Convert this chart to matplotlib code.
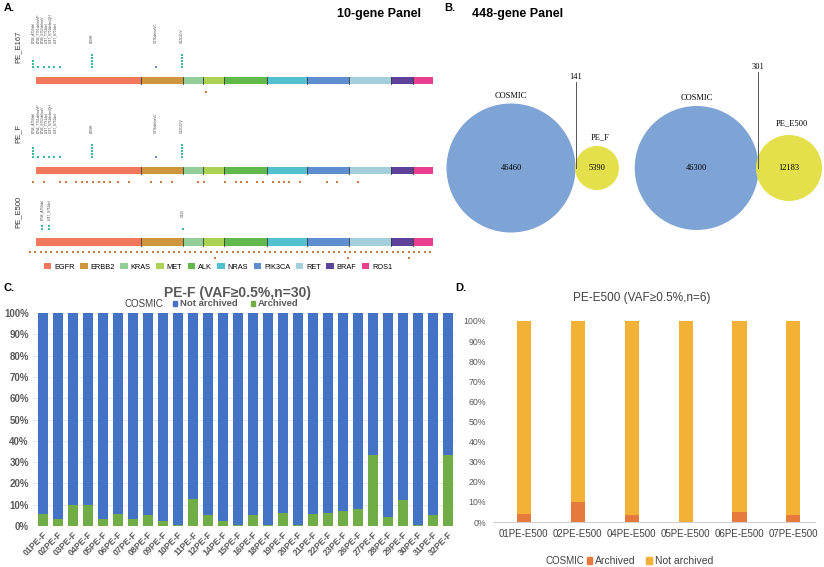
import numpy as np
import matplotlib
matplotlib.use('Agg')
import matplotlib.pyplot as plt
from matplotlib.patches import Rectangle, Circle, Patch

plt.rcParams['font.family'] = ['Liberation Sans', 'DejaVu Sans']

# ---------------- data ----------------
# Panel A: 10-gene panel tracks
genes = ['EGFR', 'ERBB2', 'KRAS', 'MET', 'ALK', 'NRAS', 'PIK3CA', 'RET', 'BRAF', 'ROS1']
gene_len = [104.7, 42.0, 20.6, 21.0, 42.4, 40.6, 42.0, 42.0, 21.4, 20.6]
gene_col = ['#F2785C', '#CF9640', '#93CE98', '#ABD155', '#62B94B',
            '#52C0CF', '#5E8ECF', '#A3CFDC', '#5E4299', '#E8408F']

samples_a = ['PE_E167', 'PE_F', 'PE_E500']

# hotspot mutations (track position, stack count)
mut_pos_1 = [-3.3, 2.3, 7.7, 13.3, 18.3, 24.0, 55.7, 119.7, 146.3]
mut_cnt_1 = [3, 1, 1, 1, 1, 1, 5, 1, 5]
mut_pos_2 = [-3.3, 2.3, 7.7, 13.3, 18.3, 24.0, 55.7, 119.7, 146.3]
mut_cnt_2 = [4, 1, 1, 1, 1, 1, 5, 1, 5]
mut_pos_3 = [6.3, 12.7, 147.3]
mut_cnt_3 = [2, 2, 1]

egfr_labels = ['E746_A750del', 'E746_T751delinsVP', 'E746_S752delinsV',
               'L747_T751del', 'L747_S752delinsQH', 'L747_S752del']
egfr_label_pos = [-2.7, 1.7, 6.0, 10.3, 14.7, 19.0]
other_labels = ['L858R', 'G776delinsVC', 'G12C/D/V']
other_label_pos = [55.7, 119.7, 146.3]
e500_labels = ['E746_A750del', 'L747_S752del', 'G12V']
e500_label_pos = [6.3, 12.7, 147.3]

# other (non-hotspot) variants below the track
var_pos_1 = [170]
var_pos_2 = [-3.3, 7.7, 24, 29.7, 40, 45.7, 51.3, 57.3, 63, 68.3, 74, 82.3, 93.3,
             114.7, 125.3, 136, 162.3, 167.7, 189.3, 200, 205.3, 210.7, 221.3,
             226.7, 237.3, 242.7, 248, 253.3, 264, 290.7, 301.3, 322.3]
var_pos_3 = [-6, -1, 5, 10, 15, 21, 26, 31, 37, 42, 47, 53, 58, 63, 69, 74, 79, 85,
             90, 95, 101, 106, 111, 117, 122, 127, 133, 138, 143, 149, 154, 159,
             165, 170, 175, 181, 186, 191, 197, 202, 207, 213, 218, 223, 229, 234,
             239, 245, 250, 255, 261, 266, 271, 277, 282, 287, 293, 298, 303, 309,
             314, 319, 325, 330, 335, 341, 346, 351, 357, 362, 367, 373, 378, 383,
             389, 394]
var_pos_3b = [179, 312, 373]

# Panel B: venn counts
venn_left = {'cosmic': 46460, 'shared': 141, 'sample': 5390, 'name': 'PE_F'}
venn_right = {'cosmic': 46300, 'shared': 301, 'sample': 12183, 'name': 'PE_E500'}

# Panel C
samples_c = ['01PE-F', '02PE-F', '03PE-F', '04PE-F', '05PE-F', '06PE-F', '07PE-F',
             '08PE-F', '09PE-F', '10PE-F', '11PE-F', '12PE-F', '14PE-F', '15PE-F',
             '16PE-F', '18PE-F', '19PE-F', '20PE-F', '21PE-F', '22PE-F', '23PE-F',
             '26PE-F', '27PE-F', '28PE-F', '29PE-F', '30PE-F', '31PE-F', '32PE-F']
archived_c = [5.5, 3.3, 9.7, 9.7, 3.4, 5.6, 3.1, 5.0, 2.4, 0.3, 12.5, 5.3, 2.4, 0.3,
              5.3, 0.3, 6.1, 0.3, 5.6, 6.1, 7.1, 8.2, 33.1, 4.4, 12.1, 0.3, 5.0, 33.1]

# Panel D
samples_d = ['01PE-E500', '02PE-E500', '04PE-E500', '05PE-E500', '06PE-E500', '07PE-E500']
archived_d = [4.0, 10.0, 3.6, 0.0, 4.8, 3.3]

# ---------------- figure ----------------
fig = plt.figure(figsize=(8.24, 5.67), dpi=100)
ov = fig.add_axes([0, 0, 1, 1])
ov.set_xlim(0, 824)
ov.set_ylim(567, 0)
ov.axis('off')

teal = '#3DB8A2'
brown = '#C97A3C'
gray_txt = '#595959'

# ---- Panel A ----
track_x0 = 36
track_y = [77, 167, 237.5]
track_h = [7, 7, 8]
mut_sets = [(mut_pos_1, mut_cnt_1), (mut_pos_2, mut_cnt_2), (mut_pos_3, mut_cnt_3)]
mut_base = [66.5, 156.5, 229]
var_sets = [var_pos_1, var_pos_2, var_pos_3]
var_y = [92, 181.7, 251.7]
name_y = [47, 133, 212]

starts = np.concatenate([[0], np.cumsum(gene_len)[:-1]])
for t in range(3):
    for s, w, c in zip(starts, gene_len, gene_col):
        ov.add_patch(Rectangle((track_x0 + s, track_y[t]), w, track_h[t],
                               facecolor=c, edgecolor='none'))
    for s in starts[1:]:
        ov.plot([track_x0 + s] * 2, [track_y[t], track_y[t] + track_h[t]],
                color='#3a3a3a', lw=0.6)
    ov.text(18, name_y[t], samples_a[t], rotation=90, ha='center', va='center',
            fontsize=5.5, color='#333333')
    pos, cnt = mut_sets[t]
    for p, n in zip(pos, cnt):
        col = '#5E8ECF' if (t < 2 and abs(p - 119.7) < 1) else teal
        ys = [mut_base[t] - 2.8 * k for k in range(n)]
        ov.scatter([track_x0 + p] * n, ys, s=3, marker='s', color=col, lw=0)
    ov.scatter([track_x0 + v for v in var_sets[t]], [var_y[t]] * len(var_sets[t]),
               s=3, marker='s', color=brown, lw=0)
ov.scatter([track_x0 + v for v in var_pos_3b], [258] * len(var_pos_3b),
           s=3, marker='s', color=brown, lw=0)

# mutation labels
for base_y in [43, 133]:
    for lab, p in zip(egfr_labels, egfr_label_pos):
        ov.text(track_x0 + p, base_y, lab, rotation=90, ha='center', va='bottom',
                fontsize=2.3, color='#444444')
    for lab, p in zip(other_labels, other_label_pos):
        ov.text(track_x0 + p, base_y, lab, rotation=90, ha='center', va='bottom',
                fontsize=2.3, color='#444444')
for lab, p, by in zip(e500_labels, e500_label_pos, [220, 220, 217]):
    ov.text(track_x0 + p, by, lab, rotation=90, ha='center', va='bottom',
            fontsize=2.3, color='#444444')

handles = [Patch(facecolor=c, edgecolor='none') for c in gene_col]
fig.legend(handles, genes, loc='center', bbox_to_anchor=(218 / 824, 1 - 267 / 567),
           ncol=10, fontsize=5.3, frameon=False, handlelength=1.0, handleheight=0.8,
           handletextpad=0.4, columnspacing=0.75)

ov.text(4, 8, 'A.', fontsize=8, fontweight='bold', va='center')
ov.text(379, 14, '10-gene Panel', fontsize=9, fontweight='bold', ha='center', va='center')

# ---- Panel B ----
ov.text(444, 8, 'B.', fontsize=8, fontweight='bold', va='center')
ov.text(518, 14, '448-gene Panel', fontsize=9, fontweight='bold', ha='center', va='center')

blue_c = '#7DA4D5'
yel_c = '#E3E04C'
serif = ['Liberation Serif', 'DejaVu Serif']
for v, cx, r, sx, sr, shared_x, shared_y, lab_y in [
        (venn_left, 511, 64.5, 597, 22, 575.7, 77, 137),
        (venn_right, 696.7, 62, 789, 33, 757.7, 67, 123)]:
    ov.add_patch(Circle((cx, 168), r, facecolor=blue_c, edgecolor='none'))
    ov.add_patch(Circle((sx, 168), sr, facecolor=yel_c, edgecolor='none'))
    ov.text(cx, 168, str(v['cosmic']), ha='center', va='center', fontsize=6, family=serif)
    ov.text(sx, 168, str(v['sample']), ha='center', va='center', fontsize=6, family=serif)
    ov.text(cx, 168 - r - 8, 'COSMIC', ha='center', va='center', fontsize=6, family=serif)
    ov.text(sx + 3, lab_y, v['name'], ha='center', va='center', fontsize=6, family=serif)
    ov.text(shared_x, shared_y, str(v['shared']), ha='center', va='center', fontsize=6,
            family=serif)
    ov.plot([shared_x, shared_x], [shared_y + 5, 168], color='#555555', lw=0.7)

# ---- Panel C ----
ov.text(4, 288, 'C.', fontsize=8, fontweight='bold', va='center')
ax_c = fig.add_axes([33 / 824, 1 - 526 / 567, (455 - 33) / 824, (526 - 313) / 567])
xc = np.arange(len(samples_c))
arch_c = np.array(archived_c)
ax_c.bar(xc, arch_c, width=0.64, color='#70AD47', zorder=3)
ax_c.bar(xc, 100 - arch_c, bottom=arch_c, width=0.64, color='#4472C4', zorder=3)
ax_c.set_xlim(-0.65, len(samples_c) - 0.55)
ax_c.set_ylim(0, 100)
ax_c.set_yticks(np.arange(0, 101, 10))
ax_c.set_yticklabels([f'{v}%' for v in range(0, 101, 10)], fontsize=7,
                     fontweight='bold', color=gray_txt)
ax_c.set_xticks(xc)
ax_c.set_xticklabels(samples_c, rotation=45, ha='right', rotation_mode='anchor',
                     fontsize=6.3, fontweight='bold', color=gray_txt)
ax_c.tick_params(length=0, pad=3)
ax_c.grid(axis='y', color='#E3E3E3', lw=0.6, zorder=0)
for sp in ax_c.spines.values():
    sp.set_visible(False)
ov.text(238, 293, 'PE-F (VAF≥0.5%,n=30)', ha='center', va='center', fontsize=10,
        fontweight='bold', color=gray_txt)
ov.text(125, 304, 'COSMIC', ha='left', va='center', fontsize=7, color='#404040')
ax_c.legend([Patch(color='#4472C4'), Patch(color='#70AD47')],
            ['Not archived', 'Archived'], loc='center',
            bbox_to_anchor=((236 - 33) / 422, (526 - 304) / 213), ncol=2,
            frameon=False, handlelength=0.45, handleheight=0.45,
            handletextpad=0.3, columnspacing=1.4,
            prop={'weight': 'bold', 'size': 6.8})
for t in ax_c.get_legend().get_texts():
    t.set_color(gray_txt)

# ---- Panel D ----
ov.text(455, 288, 'D.', fontsize=8, fontweight='bold', va='center')
ax_d = fig.add_axes([493 / 824, 1 - 522 / 567, (815 - 493) / 824, (522 - 321) / 567])
xd = np.arange(len(samples_d))
arch_d = np.array(archived_d)
ax_d.bar(xd, arch_d, width=0.26, color='#E57A3C', zorder=3)
ax_d.bar(xd, 100 - arch_d, bottom=arch_d, width=0.26, color='#F3B236', zorder=3)
ax_d.set_xlim(-0.57, len(samples_d) - 0.6)
ax_d.set_ylim(0, 100)
ax_d.set_yticks(np.arange(0, 101, 10))
ax_d.set_yticklabels([f'{v}%' for v in range(0, 101, 10)], fontsize=6.3, color=gray_txt)
ax_d.set_xticks(xd)
ax_d.set_xticklabels(samples_d, fontsize=7, color='#404040')
ax_d.tick_params(length=0, pad=5)
for sp in ['top', 'right', 'left']:
    ax_d.spines[sp].set_visible(False)
ax_d.spines['bottom'].set_color('#D0D0D0')
ov.text(642, 298, 'PE-E500 (VAF≥0.5%,n=6)', ha='center', va='center', fontsize=8.5,
        color='#404040')
ov.text(546, 561, 'COSMIC', ha='left', va='center', fontsize=7, color='#404040')
ax_d.legend([Patch(color='#E57A3C'), Patch(color='#F3B236')],
            ['Archived', 'Not archived'], loc='center',
            bbox_to_anchor=((650 - 493) / 322, -(561 - 522) / 201), ncol=2,
            frameon=False, handlelength=0.5, handleheight=0.6,
            handletextpad=0.3, columnspacing=1.0, prop={'size': 7.5})
for t in ax_d.get_legend().get_texts():
    t.set_color('#404040')

fig.savefig('out.png', dpi=100)
